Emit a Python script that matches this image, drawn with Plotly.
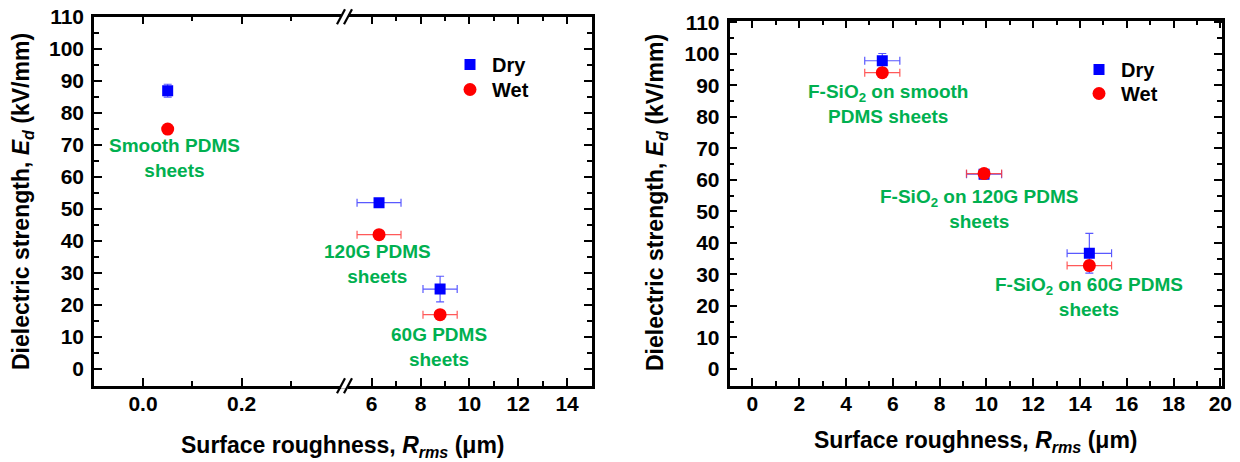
import plotly.graph_objects as go

# ---------------- data ----------------
# Left panel: bare PDMS sheets
smooth_x = [0.05]
smooth_dry_y = [87]
smooth_dry_yerr = [2]
smooth_wet_y = [75]
smooth_wet_yerr = [0.8]

rough_x = [6.3, 8.8]
rough_xerr = [0.9, 0.7]
rough_dry_y = [52, 25]
rough_dry_yerr = [1, 4]
rough_wet_y = [42, 17]
rough_wet_yerr = [0.8, 0.8]

left_labels = ["Smooth PDMS<br>sheets", "120G PDMS<br>sheets", "60G PDMS<br>sheets"]
left_label_x = [0.063, 6.24, 8.77]
left_label_y = [65.8, 32.7, 6.8]

# Right panel: F-SiO2 coated PDMS sheets
f_x = [5.55, 9.9, 14.4]
f_xerr = [0.75, 0.75, 0.95]
f_dry_y = [97.8, 61.8, 36.7]
f_dry_yerr = [2.3, 1.0, 6.3]
f_wet_y = [94, 62, 32.8]
f_wet_yerr = [1.0, 1.0, 1.5]

right_labels = ["F-SiO<sub>2</sub> on smooth<br>PDMS sheets",
                "F-SiO<sub>2</sub> on 120G PDMS<br>sheets",
                "F-SiO<sub>2</sub> on 60G PDMS<br>sheets"]
right_label_x = [5.8, 9.7, 14.4]
right_label_y = [84.0, 50.8, 22.7]

series_names = ["Dry", "Wet"]

left_major_ticks = [0.0, 0.2]
left_minor_ticks = [0.1, 0.3]
break_major_ticks = [6, 8, 10, 12, 14]
break_minor_ticks = [7, 9, 11, 13]

# ---------------- style ----------------
W, H = 1240, 462
FONT = "Liberation Sans, Arial, sans-serif"
BLUE = "#0000FF"
RED = "#FF0000"
BLUE_ERR = "rgba(60,60,255,0.85)"
RED_ERR = "rgba(255,60,60,0.85)"
GREEN = "#00B050"


def px(x):
    return x / W


def py(y):
    return 1 - y / H


# panel frames in pixels
L_LEFT, L_BREAK, L_RIGHT, L_TOP, L_BOT = 94, 344.5, 592, 16.7, 385.7
R_LEFT, R_RIGHT, R_TOP, R_BOT = 729.5, 1222, 20.7, 385.7

fig = go.Figure()


def err(arr, color, visible=True):
    return dict(type="data", array=arr, visible=visible, color=color,
                thickness=1.2, width=4)


# left panel, smooth segment
fig.add_trace(go.Scatter(
    x=smooth_x, y=smooth_dry_y, mode="markers", name=series_names[0],
    marker=dict(symbol="square", size=11, color=BLUE),
    error_y=err(smooth_dry_yerr, BLUE_ERR),
    xaxis="x", yaxis="y", showlegend=False))
fig.add_trace(go.Scatter(
    x=smooth_x, y=smooth_wet_y, mode="markers", name=series_names[1],
    marker=dict(symbol="circle", size=13, color=RED),
    error_y=err(smooth_wet_yerr, RED_ERR),
    xaxis="x", yaxis="y", showlegend=False))
# left panel, rough segment
fig.add_trace(go.Scatter(
    x=rough_x, y=rough_dry_y, mode="markers", name=series_names[0],
    marker=dict(symbol="square", size=11, color=BLUE),
    error_x=err(rough_xerr, BLUE_ERR), error_y=err(rough_dry_yerr, BLUE_ERR),
    xaxis="x2", yaxis="y2", legend="legend"))
fig.add_trace(go.Scatter(
    x=rough_x, y=rough_wet_y, mode="markers", name=series_names[1],
    marker=dict(symbol="circle", size=13, color=RED),
    error_x=err(rough_xerr, RED_ERR), error_y=err(rough_wet_yerr, RED_ERR),
    xaxis="x2", yaxis="y2", legend="legend2"))
# right panel
fig.add_trace(go.Scatter(
    x=f_x, y=f_dry_y, mode="markers", name=series_names[0],
    marker=dict(symbol="square", size=11, color=BLUE),
    error_x=err(f_xerr, BLUE_ERR), error_y=err(f_dry_yerr, BLUE_ERR),
    xaxis="x3", yaxis="y3", legend="legend3"))
fig.add_trace(go.Scatter(
    x=f_x, y=f_wet_y, mode="markers", name=series_names[1],
    marker=dict(symbol="circle", size=13, color=RED),
    error_x=err(f_xerr, RED_ERR), error_y=err(f_wet_yerr, RED_ERR),
    xaxis="x3", yaxis="y3", legend="legend4"))

tickfont = dict(family=FONT, size=21, color="black", weight="bold")
common = dict(showgrid=False, zeroline=False, showline=True, linecolor="black",
              linewidth=2.5, ticks="inside", ticklen=8, tickwidth=2, tickcolor="black",
              tickfont=tickfont, automargin=False)
minor_common = dict(ticks="inside", ticklen=5, tickwidth=1.8, tickcolor="black", showgrid=False)

leg_font = dict(family=FONT, size=20, color="black", weight="bold")


def leg(xc, yc):
    # single-entry legend whose symbol centre lands at pixel (xc, yc)
    return dict(x=px(xc - 20), y=py(yc - 20), xanchor="left", yanchor="top",
                font=leg_font, bgcolor="rgba(0,0,0,0)", itemwidth=34, tracegroupgap=0)


fig.update_layout(
    width=W, height=H,
    margin=dict(l=0, r=0, t=0, b=0, autoexpand=False),
    paper_bgcolor="white", plot_bgcolor="white",
    font=dict(family=FONT, color="black"),
    xaxis=dict(domain=[px(L_LEFT), px(L_BREAK)], range=[-0.0993, 0.4083], anchor="y",
               tickmode="array", tickvals=left_major_ticks, tickformat=".1f", mirror="ticks",
               ticklabelstandoff=-3,
               minor=dict(tickmode="array", tickvals=left_minor_ticks, **minor_common), **common),
    xaxis2=dict(domain=[px(L_BREAK), px(L_RIGHT)], range=[4.886, 15.02], anchor="y2",
                tickmode="array", tickvals=break_major_ticks, mirror="ticks",
                ticklabelstandoff=-3,
                minor=dict(tickmode="array", tickvals=break_minor_ticks, **minor_common), **common),
    yaxis=dict(domain=[py(L_BOT), py(L_TOP)], range=[-5.2, 110.1], anchor="x",
               side="left", tick0=0, dtick=10, mirror=False, ticklabelstandoff=3,
               minor=dict(dtick=5, **minor_common), **common),
    yaxis2=dict(domain=[py(L_BOT), py(L_TOP)], range=[-5.2, 110.1], anchor="x2",
                side="right", tick0=0, dtick=10, mirror=False, showticklabels=False,
                minor=dict(dtick=5, **minor_common), **common),
    xaxis3=dict(domain=[px(R_LEFT), px(R_RIGHT)], range=[-0.98, 20.07], anchor="y3",
                tick0=0, dtick=2, mirror="ticks", ticklabelstandoff=-3,
                minor=dict(dtick=1, **minor_common), **common),
    yaxis3=dict(domain=[py(R_BOT), py(R_TOP)], range=[-5.3, 110.5], anchor="x3",
                tick0=0, dtick=10, mirror="ticks", ticklabelstandoff=3,
                minor=dict(dtick=5, **minor_common), **common),
    legend=leg(468, 65),
    legend2=leg(468, 90),
    legend3=leg(1097, 70),
    legend4=leg(1097, 94),
)

annotations = []
lab_font = dict(family=FONT, size=19, color=GREEN, weight="bold")
for i, t in enumerate(left_labels):
    xr, yr = ("x", "y") if i == 0 else ("x2", "y2")
    annotations.append(dict(x=left_label_x[i], y=left_label_y[i], xref=xr, yref=yr,
                            text=t, showarrow=False, font=lab_font, align="center"))
for i, t in enumerate(right_labels):
    annotations.append(dict(x=right_label_x[i], y=right_label_y[i], xref="x3", yref="y3",
                            text=t, showarrow=False, font=lab_font, align="center"))

title_font = dict(family=FONT, size=23, color="black", weight="bold")
ytitle = "Dielectric strength, <i>E<sub>d</sub></i> (kV/mm)"
xtitle = "Surface roughness, <i>R<sub>rms</sub></i> (\u03bcm)"
annotations += [
    dict(x=px(23), y=py(202), xref="paper", yref="paper", text=ytitle, textangle=-90,
         showarrow=False, font=title_font, xanchor="center", yanchor="middle"),
    dict(x=px(657), y=py(202), xref="paper", yref="paper", text=ytitle, textangle=-90,
         showarrow=False, font=title_font, xanchor="center", yanchor="middle"),
    dict(x=px(343), y=py(446), xref="paper", yref="paper", text=xtitle,
         showarrow=False, font=title_font, xanchor="center", yanchor="middle"),
    dict(x=px(976), y=py(441), xref="paper", yref="paper", text=xtitle,
         showarrow=False, font=title_font, xanchor="center", yanchor="middle"),
]
fig.update_layout(annotations=annotations)

# axis break marks "//" on top and bottom frame lines
shapes = []
for yl in (L_TOP, L_BOT):
    shapes.append(dict(type="rect", xref="paper", yref="paper",
                       x0=px(L_BREAK - 3.5), x1=px(L_BREAK + 3.5), y0=py(yl + 3), y1=py(yl - 3),
                       fillcolor="white", line=dict(width=0), layer="above"))
    for dx in (-3.5, 3.5):
        shapes.append(dict(type="line", xref="paper", yref="paper",
                           x0=px(L_BREAK + dx - 4), y0=py(yl + 7.5),
                           x1=px(L_BREAK + dx + 4), y1=py(yl - 7.5),
                           line=dict(color="black", width=2.2), layer="above"))
fig.update_layout(shapes=shapes)

fig.write_html("out.html", config={"displayModeBar": False},
               post_script="document.body.style.margin='0';")
